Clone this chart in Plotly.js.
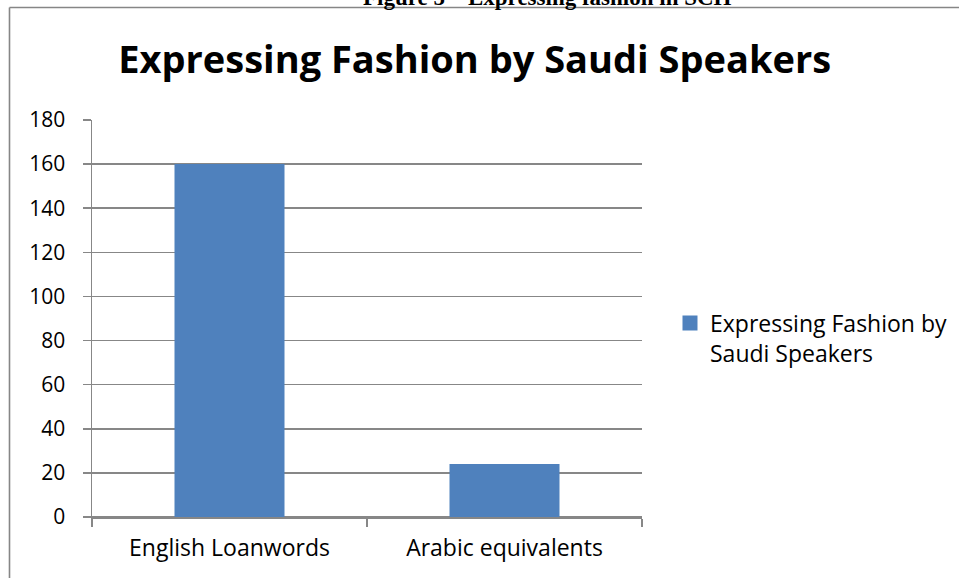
<!DOCTYPE html>
<html>
<head>
<meta charset="utf-8">
<script src="https://cdn.plot.ly/plotly-3.0.1.min.js"></script>
<style>html,body{margin:0;padding:0;background:#fff;}#chart{width:959px;height:578px;}</style>
</head>
<body>
<div id="chart"></div>
<script>
const categories = ["English Loanwords", "Arabic equivalents"];
const values = [160, 24];
const seriesName = "Expressing Fashion by<br>Saudi Speakers";
const chartTitle = "Expressing Fashion by Saudi Speakers";
const captionText = "Figure 5 – Expressing fashion in SCH";
const yTicks = [0, 20, 40, 60, 80, 100, 120, 140, 160, 180];

const FONT = "Open Sans, Liberation Sans, sans-serif";
const GRID = "#878787";
const BAR = "#4F81BD";

const barTrace = {
  type: "bar",
  x: categories,
  y: values,
  name: seriesName,
  marker: {color: BAR},
  showlegend: false,
  hoverinfo: "x+y"
};

// legend-only entry (larger square swatch like the original)
const legendTrace = {
  type: "scatter",
  mode: "markers",
  x: [null],
  y: [null],
  name: seriesName,
  marker: {color: BAR, symbol: "square", size: 15},
  showlegend: true,
  hoverinfo: "skip"
};

const layout = {
  width: 959,
  height: 578,
  paper_bgcolor: "#ffffff",
  plot_bgcolor: "#ffffff",
  margin: {l: 92, r: 317, t: 120, b: 61, pad: 0, autoexpand: false},
  bargap: 0.6,
  font: {family: FONT, color: "#000", size: 20},
  title: {
    text: "<b>" + chartTitle + "</b>",
    font: {family: FONT, size: 38, color: "#000"},
    xref: "container", x: 0.495, xanchor: "center",
    yref: "container", y: 0.897, yanchor: "middle"
  },
  xaxis: {
    type: "category",
    showgrid: false,
    showline: true, linecolor: GRID, linewidth: 1.5,
    ticks: "outside", ticklen: 8, tickcolor: GRID, tickwidth: 1.5,
    tickson: "boundaries",
    tickfont: {family: FONT, size: 23, color: "#000"},
    ticklabelstandoff: 10,
    automargin: false,
    fixedrange: true
  },
  yaxis: {
    range: [0, 180],
    tickvals: yTicks,
    ticktext: yTicks.map(String),
    showgrid: true, gridcolor: GRID, gridwidth: 1.5,
    showline: true, linecolor: GRID, linewidth: 1.5,
    zeroline: true, zerolinecolor: GRID, zerolinewidth: 1.5,
    ticks: "outside", ticklen: 8, tickcolor: GRID, tickwidth: 1.5,
    tickfont: {family: FONT, size: 21, color: "#000"},
    ticklabelstandoff: 13,
    automargin: false,
    fixedrange: true
  },
  legend: {
    x: 1.0509, xanchor: "left",
    y: 0.451, yanchor: "middle",
    valign: "top",
    font: {family: FONT, size: 23, color: "#000"},
    bgcolor: "rgba(0,0,0,0)"
  },
  shapes: [
    {type: "line", xref: "paper", yref: "paper", x0: -0.15, x1: 1.6, y0: 1.2834, y1: 1.2834,
     line: {color: "#868686", width: 1.6}},
    {type: "line", xref: "paper", yref: "paper", x0: -0.15, x1: -0.15, y0: 1.2834, y1: -0.2,
     line: {color: "#868686", width: 1.6}}
  ],
  annotations: [
    {text: "<b>" + captionText + "</b>", xref: "paper", yref: "paper",
     x: 0.829, y: 1.287, xanchor: "center", yanchor: "bottom", yshift: -6, showarrow: false,
     font: {family: "Liberation Serif, serif", size: 23, color: "#000"}}
  ]
};

Plotly.newPlot("chart", [barTrace, legendTrace], layout, {displayModeBar: false, staticPlot: true});
</script>
</body>
</html>
